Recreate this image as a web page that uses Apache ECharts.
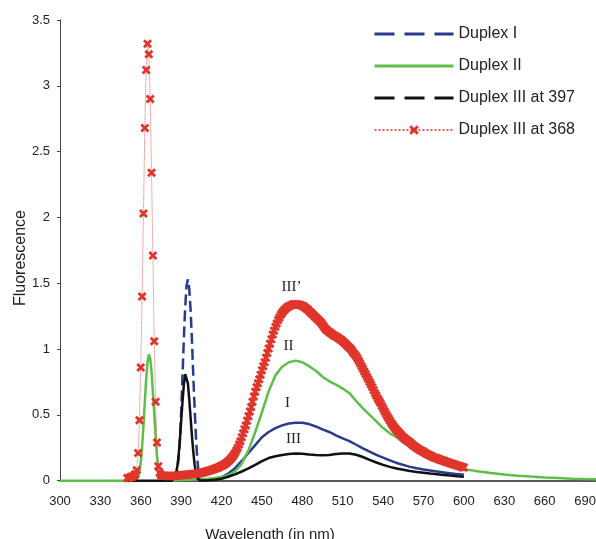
<!DOCTYPE html>
<html>
<head>
<meta charset="utf-8">
<script src="https://cdn.jsdelivr.net/npm/echarts@6/dist/echarts.min.js"></script>
<style>
  html, body { margin: 0; padding: 0; background: #fff; }
  #chart { width: 596px; height: 539px; }
</style>
</head>
<body>
<div id="chart"></div>
<script>
// Axis ticks
const wavelengthTicks = [300, 330, 360, 390, 420, 450, 480, 510, 540, 570, 600, 630, 660, 690];
const fluorescenceTicks = [0, 0.5, 1, 1.5, 2, 2.5, 3, 3.5];

// Duplex I: excitation peak (dashed) and emission band
const duplexIPeakNm = [385, 386, 387, 388, 389, 390, 391, 392, 393, 394, 395, 396, 397, 398, 399, 400, 401, 402, 403, 404];
const duplexIPeak   = [0, 0.02, 0.06, 0.16, 0.30, 0.52, 0.80, 1.08, 1.32, 1.48, 1.53, 1.46, 1.30, 1.07, 0.80, 0.55, 0.33, 0.16, 0.06, 0.01];
const duplexIBandNm = [404, 410, 415, 420, 425, 430, 435, 440, 445, 450, 455, 460, 465, 470, 475, 480, 485, 490, 495, 500,
                       505, 510, 515, 520, 525, 530, 535, 540, 545, 550, 555, 560, 565, 570, 575, 580, 585, 590, 595, 600];
const duplexIBand   = [0.01, 0.01, 0.015, 0.025, 0.055, 0.095, 0.15, 0.21, 0.27, 0.33, 0.37, 0.40, 0.42, 0.435, 0.44, 0.44, 0.43, 0.412, 0.39, 0.37,
                       0.345, 0.322, 0.30, 0.273, 0.245, 0.22, 0.196, 0.175, 0.155, 0.135, 0.12, 0.105, 0.094, 0.085, 0.077, 0.07, 0.063, 0.056, 0.05, 0.045];

// Duplex II
const duplexIINm = [300, 355, 356, 357, 358, 359, 360, 361, 362, 363, 364, 365, 366, 367, 368, 369, 370, 371, 372, 373, 374, 375, 376,
                    380, 390, 400, 405, 410, 415, 420, 425, 430, 435, 440, 445, 450, 455, 460, 465, 470, 475, 480, 485, 490, 495, 500,
                    505, 510, 515, 520, 525, 530, 535, 540, 545, 550, 555, 560, 565, 570, 575, 580, 585, 590, 595, 600,
                    610, 620, 630, 640, 650, 660, 670, 680, 690, 700];
const duplexII   = [0, 0, 0.005, 0.01, 0.03, 0.07, 0.14, 0.26, 0.42, 0.60, 0.77, 0.90, 0.96, 0.93, 0.83, 0.67, 0.51, 0.34, 0.19, 0.09, 0.03, 0.01, 0,
                    0, 0.005, 0.01, 0.012, 0.015, 0.02, 0.028, 0.042, 0.07, 0.13, 0.23, 0.37, 0.52, 0.68, 0.80, 0.865, 0.90, 0.912, 0.90, 0.87, 0.835, 0.79, 0.755,
                    0.73, 0.70, 0.665, 0.605, 0.55, 0.50, 0.45, 0.40, 0.36, 0.33, 0.29, 0.255, 0.22, 0.19, 0.165, 0.14, 0.125, 0.11, 0.098, 0.088,
                    0.072, 0.058, 0.047, 0.038, 0.031, 0.025, 0.02, 0.015, 0.012, 0.01];

// Duplex III excited at 397
const duplexIII397Nm = [350, 383, 384, 385, 386, 387, 388, 389, 390, 391, 392, 393, 394, 395, 396, 397, 398, 399, 400, 401, 402, 403, 404,
                        410, 415, 420, 425, 430, 435, 440, 445, 450, 455, 460, 465, 470, 475, 480, 485, 490, 495, 500,
                        505, 510, 515, 520, 525, 530, 535, 540, 545, 550, 555, 560, 565, 570, 575, 580, 585, 590, 595, 600];
const duplexIII397   = [0, 0, 0.005, 0.02, 0.05, 0.10, 0.18, 0.30, 0.45, 0.60, 0.73, 0.81, 0.81, 0.74, 0.62, 0.48, 0.34, 0.22, 0.12, 0.06, 0.02, 0.005, 0.002,
                        0.003, 0.008, 0.015, 0.03, 0.048, 0.07, 0.093, 0.12, 0.148, 0.172, 0.186, 0.196, 0.203, 0.207, 0.204, 0.199, 0.195, 0.193, 0.195,
                        0.202, 0.207, 0.207, 0.197, 0.18, 0.158, 0.138, 0.12, 0.105, 0.093, 0.083, 0.073, 0.066, 0.06, 0.054, 0.049, 0.044, 0.039, 0.034, 0.03];

// Duplex III excited at 368: one reading per nm from 350 nm to 600 nm
const duplexIII368StartNm = 350;
const duplexIII368 = [
  // 350-374
  0.02, 0.02, 0.025, 0.03, 0.03, 0.04, 0.05, 0.08, 0.21, 0.46, 0.86, 1.40, 2.03, 2.68, 3.12, 3.32, 3.24, 2.90, 2.34, 1.71, 1.06, 0.60, 0.29, 0.11, 0.06,
  // 375-425
  0.042, 0.04, 0.039, 0.038, 0.037, 0.036, 0.036, 0.036, 0.036, 0.037, 0.037, 0.038, 0.039, 0.04, 0.041, 0.042, 0.043, 0.044, 0.045, 0.046,
  0.047, 0.048, 0.049, 0.05, 0.051, 0.052, 0.053, 0.055, 0.056, 0.058, 0.06, 0.063, 0.065, 0.068, 0.071, 0.074, 0.077, 0.08, 0.083, 0.087,
  0.09, 0.094, 0.098, 0.103, 0.108, 0.113, 0.118, 0.124, 0.131, 0.138, 0.147,
  // 426-470
  0.157, 0.168, 0.18, 0.195, 0.21, 0.23, 0.25, 0.275, 0.30, 0.33, 0.36, 0.39, 0.42, 0.455, 0.49, 0.525, 0.56, 0.60, 0.64, 0.675,
  0.71, 0.74, 0.77, 0.805, 0.84, 0.87, 0.90, 0.935, 0.97, 1.005, 1.04, 1.075, 1.11, 1.14, 1.17, 1.195, 1.22, 1.24, 1.26, 1.275,
  1.29, 1.30, 1.31, 1.32, 1.325,
  // 471-509
  1.33, 1.335, 1.338, 1.34, 1.341, 1.34, 1.338, 1.335, 1.333, 1.33, 1.323, 1.315, 1.308, 1.30, 1.29, 1.28, 1.27, 1.26, 1.25, 1.24,
  1.23, 1.22, 1.21, 1.20, 1.185, 1.17, 1.157, 1.145, 1.137, 1.13, 1.122, 1.115, 1.107, 1.10, 1.095, 1.09, 1.082, 1.075, 1.068,
  // 510-550
  1.06, 1.05, 1.04, 1.03, 1.02, 1.01, 1.00, 0.985, 0.97, 0.958, 0.945, 0.928, 0.91, 0.89, 0.87, 0.85, 0.83, 0.81, 0.79, 0.77,
  0.75, 0.73, 0.71, 0.688, 0.665, 0.645, 0.625, 0.607, 0.59, 0.57, 0.55, 0.53, 0.51, 0.492, 0.475, 0.457, 0.44, 0.425, 0.41, 0.397,
  0.385,
  // 551-600
  0.373, 0.362, 0.351, 0.34, 0.33, 0.32, 0.312, 0.305, 0.297, 0.29, 0.281, 0.272, 0.264, 0.256, 0.249, 0.242, 0.236, 0.23, 0.225, 0.22,
  0.213, 0.207, 0.201, 0.196, 0.191, 0.186, 0.181, 0.177, 0.173, 0.17, 0.166, 0.162, 0.158, 0.155, 0.151, 0.147, 0.143, 0.14, 0.136, 0.132,
  0.129, 0.126, 0.123, 0.12, 0.116, 0.113, 0.11, 0.106, 0.103, 0.10
];
const duplexIII368Nm = duplexIII368.map((_, i) => duplexIII368StartNm + i);

const pairs = (xs, ys) => xs.map((x, i) => [x, ys[i]]);

const BLUE = '#2a3a8e';
const GREEN = '#5bbf48';
const BLACK = '#111111';
const RED = '#e0352b';
// Bold "x" marker
const CROSS = 'path://M0,2.2 L2.2,0 L5,2.8 L7.8,0 L10,2.2 L7.2,5 L10,7.8 L7.8,10 L5,7.2 L2.2,10 L0,7.8 L2.8,5 Z';
const SANS = '"Liberation Sans", Arial, sans-serif';

const chart = echarts.init(document.getElementById('chart'), null, { renderer: 'canvas' });

const hiddenMarker = { opacity: 0 };

chart.setOption({
  animation: false,
  backgroundColor: '#ffffff',
  grid: { left: 60, top: 20, right: -2.5, bottom: 58.3, containLabel: false, outerBoundsMode: 'none' },
  legend: {
    orient: 'vertical',
    left: 368,
    top: 21,
    itemWidth: 79,
    itemHeight: 12,
    itemGap: 16,
    textStyle: { fontSize: 16, color: '#222', fontFamily: SANS },
    data: [
      { name: 'Duplex I', lineStyle: { type: [20, 10], width: 3 }, itemStyle: hiddenMarker },
      { name: 'Duplex II', lineStyle: { width: 3 }, itemStyle: hiddenMarker },
      { name: 'Duplex III at 397', lineStyle: { type: [20, 10], width: 3 }, itemStyle: hiddenMarker },
      'Duplex III at 368'
    ]
  },
  xAxis: {
    type: 'value',
    min: wavelengthTicks[0],
    max: 700,
    interval: wavelengthTicks[1] - wavelengthTicks[0],
    axisLine: { show: true, onZero: false, lineStyle: { color: '#222', width: 1.5 } },
    axisTick: { show: false },
    splitLine: { show: false },
    axisLabel: {
      margin: 14, fontSize: 13, color: '#222', fontFamily: SANS,
      showMaxLabel: false,
      formatter: v => (wavelengthTicks.includes(v) ? String(v) : '')
    }
  },
  yAxis: {
    type: 'value',
    min: fluorescenceTicks[0],
    max: fluorescenceTicks[fluorescenceTicks.length - 1],
    interval: fluorescenceTicks[1] - fluorescenceTicks[0],
    axisLine: { show: true, lineStyle: { color: '#444', width: 1 } },
    axisTick: { show: true, inside: false, length: 3, lineStyle: { color: '#444' } },
    splitLine: { show: false },
    axisLabel: { margin: 10, fontSize: 13, color: '#222', fontFamily: SANS }
  },
  series: [
    {
      name: 'Duplex I', type: 'line', data: pairs(duplexIPeakNm, duplexIPeak),
      symbol: 'none', lineStyle: { color: BLUE, width: 2.5, type: [11, 5] }, itemStyle: { color: BLUE }
    },
    {
      name: 'Duplex I', type: 'line', data: pairs(duplexIBandNm, duplexIBand),
      symbol: 'none', lineStyle: { color: BLUE, width: 2.5 }, itemStyle: { color: BLUE }
    },
    {
      name: 'Duplex II', type: 'line', data: pairs(duplexIINm, duplexII),
      symbol: 'none', lineStyle: { color: GREEN, width: 2.5 }, itemStyle: { color: GREEN }
    },
    {
      name: 'Duplex III at 397', type: 'line', data: pairs(duplexIII397Nm, duplexIII397),
      symbol: 'none', lineStyle: { color: BLACK, width: 2.5 }, itemStyle: { color: BLACK }
    },
    {
      name: 'Duplex III at 368', type: 'line', data: pairs(duplexIII368Nm, duplexIII368),
      symbol: CROSS, symbolSize: 9, showSymbol: true, showAllSymbol: true,
      lineStyle: { color: '#e8625a', width: 1, type: 'dotted' },
      itemStyle: { color: RED }
    }
  ]
});

// Curve annotations and axis titles
const curveNotes = [
  { text: 'III\u2019', nm: 472, v: 1.47 },
  { text: 'II', nm: 469.7, v: 1.02 },
  { text: 'I', nm: 469, v: 0.59 },
  { text: 'III', nm: 473.5, v: 0.32 }
];
const graphics = curveNotes.map(n => {
  const [px, py] = chart.convertToPixel({ gridIndex: 0 }, [n.nm, n.v]);
  return {
    type: 'text', x: px, y: py,
    style: { text: n.text, font: '15px "Liberation Serif", "Times New Roman", serif', fill: '#222', align: 'center', verticalAlign: 'middle' }
  };
});
graphics.push({
  type: 'text', x: 21, y: 258, rotation: Math.PI / 2,
  style: { text: 'Fluorescence', font: '16px ' + SANS, fill: '#222', align: 'center', verticalAlign: 'middle' }
});
graphics.push({
  type: 'text', x: 270, y: 535,
  style: { text: 'Wavelength (in nm)', font: '15px ' + SANS, fill: '#222', align: 'center', verticalAlign: 'middle' }
});
chart.setOption({ graphic: graphics });
</script>
</body>
</html>
